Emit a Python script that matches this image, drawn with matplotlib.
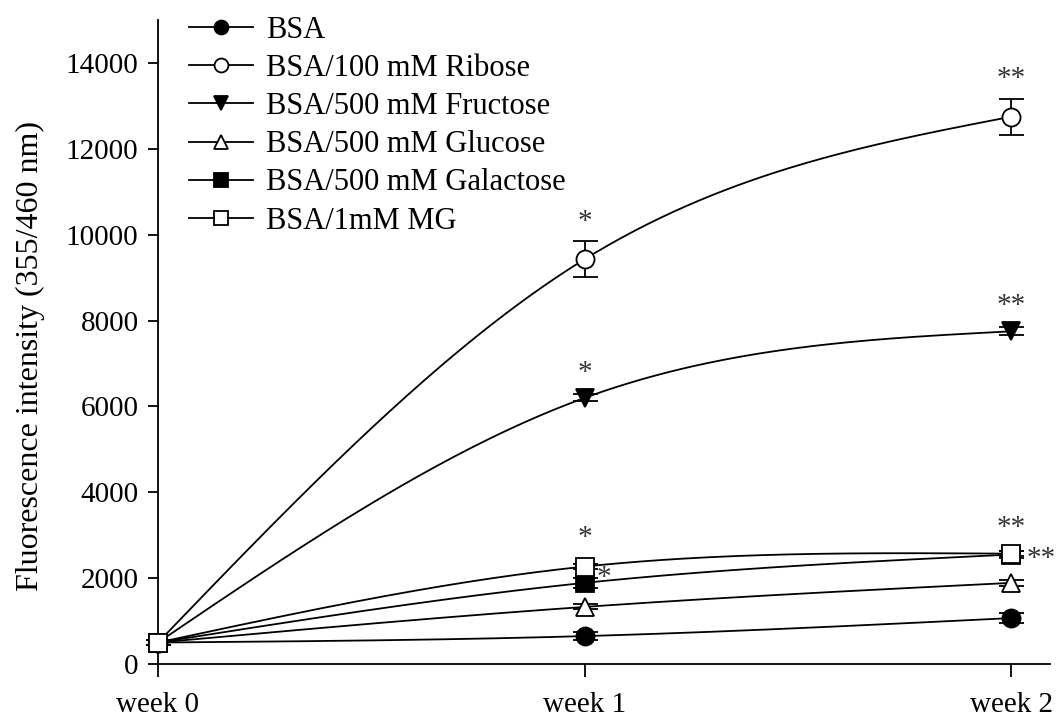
import matplotlib
matplotlib.use('Agg')
import matplotlib.pyplot as plt
import numpy as np

weeks = [0, 1, 2]
week_labels = ['week 0', 'week 1', 'week 2']

series_names = ['BSA', 'BSA/100 mM Ribose', 'BSA/500 mM Fructose',
                'BSA/500 mM Glucose', 'BSA/500 mM Galactose', 'BSA/1mM MG']
bsa = [500, 650, 1070]
ribose = [500, 9430, 12750]
fructose = [500, 6200, 7750]
glucose = [500, 1330, 1890]
galactose = [500, 1890, 2550]
mg = [500, 2270, 2570]

bsa_err = [60, 90, 110]
ribose_err = [60, 420, 420]
fructose_err = [60, 80, 90]
glucose_err = [60, 60, 70]
galactose_err = [60, 110, 80]
mg_err = [60, 60, 60]

# significance marks: (text, x, y)
stars = [('*', 1, 10300), ('*', 1, 6780), ('*', 1, 2940), ('*', 1.045, 2010),
         ('**', 2, 13620), ('**', 2, 8340), ('**', 2, 3170), ('**', 2.07, 2450)]


def natural_spline(x, y, n=200):
    x = np.asarray(x, float)
    y = np.asarray(y, float)
    h = np.diff(x)
    # three points: solve for middle second derivative
    m1 = 6 * ((y[2] - y[1]) / h[1] - (y[1] - y[0]) / h[0]) / (2 * (h[0] + h[1]))
    M = np.array([0.0, m1, 0.0])
    xs = np.linspace(x[0], x[-1], n)
    ys = np.empty_like(xs)
    for k, xv in enumerate(xs):
        i = 0 if xv <= x[1] else 1
        a = x[i + 1] - xv
        b = xv - x[i]
        ys[k] = (M[i] * a ** 3 / (6 * h[i]) + M[i + 1] * b ** 3 / (6 * h[i])
                 + (y[i] / h[i] - M[i] * h[i] / 6) * a
                 + (y[i + 1] / h[i] - M[i + 1] * h[i] / 6) * b)
    return xs, ys


def main():
    plt.rcParams['font.family'] = ['Liberation Serif', 'DejaVu Serif']
    fig = plt.figure(figsize=(10.56, 7.19), dpi=100)
    ax = fig.add_axes([0.1496, 0.0765, 0.8444, 0.8955])

    data = [bsa, ribose, fructose, glucose, galactose, mg]
    errs = [bsa_err, ribose_err, fructose_err, glucose_err, galactose_err, mg_err]
    markers = ['o', 'o', 'v', '^', 's', 's']
    fills = ['black', 'white', 'black', 'white', 'black', 'white']

    handles = []
    for name, vals, err, mk, fc in zip(series_names, data, errs, markers, fills):
        xs, ys = natural_spline(weeks, vals)
        ax.plot(xs, ys, color='black', lw=1.3, zorder=2)
        ax.errorbar(weeks, vals, yerr=err, fmt='none', ecolor='black',
                    elinewidth=1.3, capsize=9, capthick=1.3, zorder=3,
                    clip_on=False)
        ax.plot(weeks, vals, linestyle='none', marker=mk, markersize=13,
                markerfacecolor=fc, markeredgecolor='black', markeredgewidth=1.3,
                zorder=4, clip_on=False)
        h, = ax.plot([], [], color='black', lw=1.3, marker=mk, markersize=10,
                     markerfacecolor=fc, markeredgecolor='black',
                     markeredgewidth=1.3, label=name)
        handles.append(h)

    for txt, x, y in stars:
        ax.text(x, y, txt, ha='center', va='center', fontsize=21, color='#333333')

    ax.set_xlim(0, 2.09)
    ax.set_ylim(0, 15000)
    ax.set_xticks(weeks)
    ax.set_xticklabels(week_labels)
    ax.set_yticks(np.arange(0, 14001, 2000))
    ax.tick_params(axis='both', direction='out', labelsize=21, width=1.3)
    ax.tick_params(axis='x', length=9, pad=11)
    ax.tick_params(axis='y', length=7, pad=7)
    for side in ['top', 'right']:
        ax.spines[side].set_visible(False)
    for side in ['left', 'bottom']:
        ax.spines[side].set_linewidth(1.3)
    ax.set_ylabel('Fluorescence intensity (355/460 nm)', fontsize=23)
    ax.yaxis.set_label_coords(-0.127, 0.478)

    ax.legend(handles=handles, loc='upper left', bbox_to_anchor=(0.167, 0.995),
              bbox_transform=fig.transFigure, frameon=False, fontsize=22,
              handlelength=2.1, handletextpad=0.45, labelspacing=0.3,
              borderaxespad=0)

    fig.savefig('out.png', dpi=100)


if __name__ == '__main__':
    main()
